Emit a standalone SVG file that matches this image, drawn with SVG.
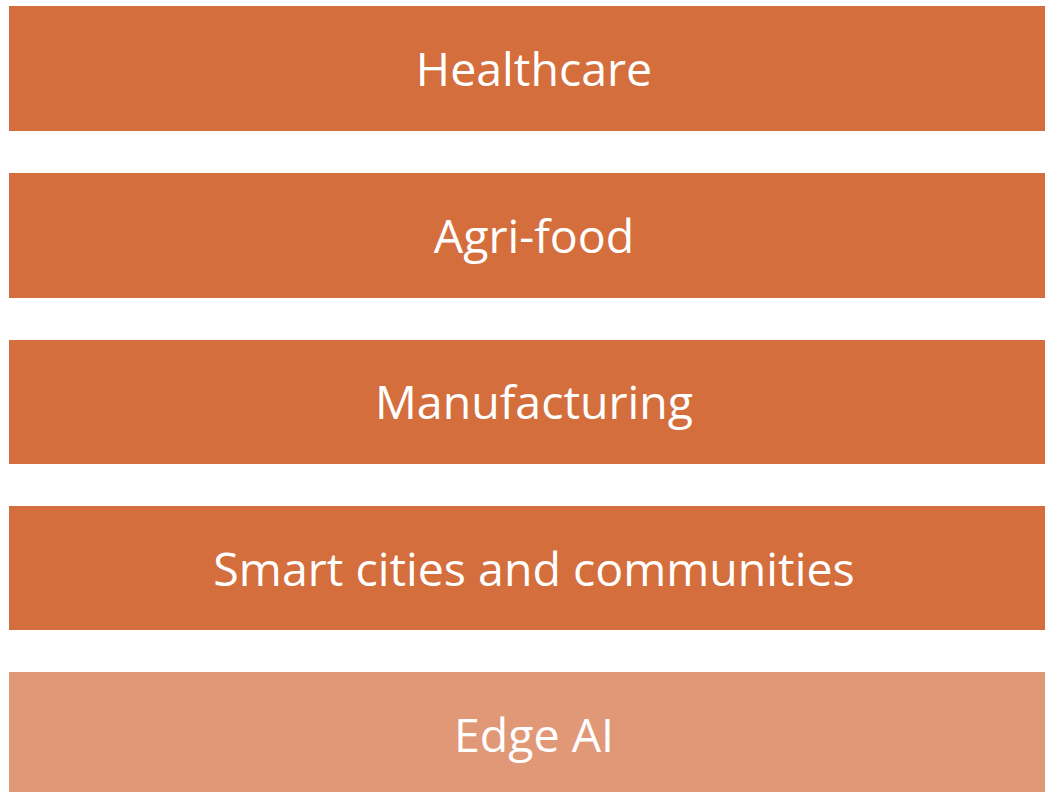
<svg xmlns="http://www.w3.org/2000/svg" width="1045" height="792" viewBox="0 0 1045 792">
<style>
.bar{fill:#D46F3D}
.light{fill:#E19877}
.lbl{font-family:"Open Sans","Liberation Sans",sans-serif;font-size:46.5px;fill:#FFFFFF;text-anchor:middle}
</style>
<rect width="1045" height="792" fill="#FFFFFF"/>
<g id="healthcare"><rect class="bar" x="9" y="6" width="1036" height="125"/><text class="lbl" x="534" y="86">Healthcare</text></g>
<g id="agri-food"><rect class="bar" x="9" y="173" width="1036" height="125"/><text class="lbl" x="534" y="253">Agri-food</text></g>
<g id="manufacturing"><rect class="bar" x="9" y="340" width="1036" height="124"/><text class="lbl" x="534" y="419">Manufacturing</text></g>
<g id="smart-cities"><rect class="bar" x="9" y="506" width="1036" height="124"/><text class="lbl" x="534" y="586">Smart cities and communities</text></g>
<g id="edge-ai"><rect class="light" x="9" y="672" width="1036" height="120"/><text class="lbl" x="534" y="752">Edge AI</text></g>
<g id="connectors"/>
</svg>
